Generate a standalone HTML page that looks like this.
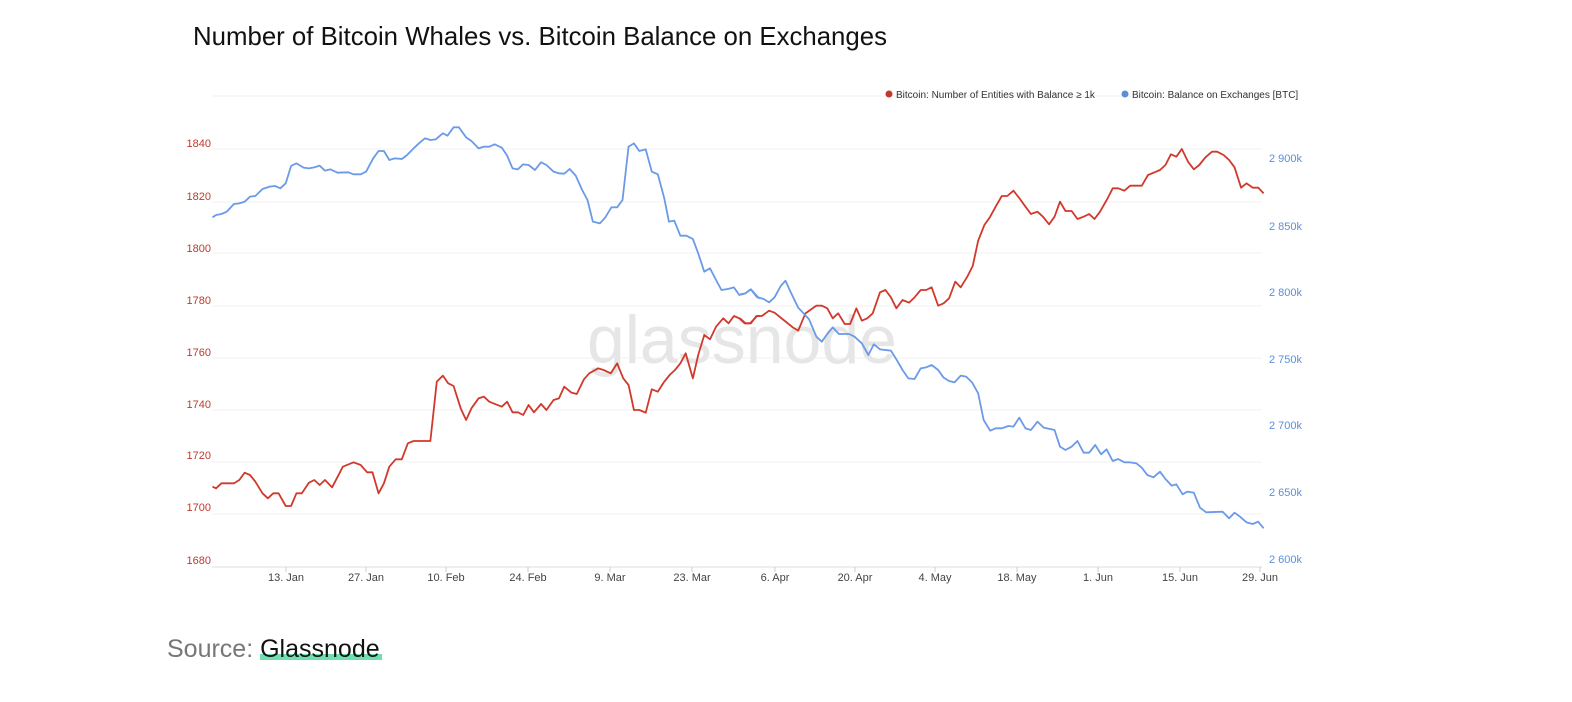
<!DOCTYPE html>
<html><head><meta charset="utf-8"><style>
body{margin:0;background:#fff;width:1572px;height:702px;overflow:hidden;font-family:"Liberation Sans",sans-serif}
</style></head><body>
<svg width="1572" height="702" xmlns="http://www.w3.org/2000/svg" style="position:absolute;left:0;top:0">
<text x="193" y="45" font-size="25.8" fill="#111" font-family="Liberation Sans, sans-serif">Number of Bitcoin Whales vs. Bitcoin Balance on Exchanges</text>
<g stroke="#f0f0f0" stroke-width="1">
<line x1="212" x2="1262" y1="96" y2="96"/><line x1="212" x2="1262" y1="149" y2="149"/><line x1="212" x2="1262" y1="202" y2="202"/><line x1="212" x2="1262" y1="253" y2="253"/><line x1="212" x2="1262" y1="306" y2="306"/><line x1="212" x2="1262" y1="358" y2="358"/><line x1="212" x2="1262" y1="410" y2="410"/><line x1="212" x2="1262" y1="462" y2="462"/><line x1="212" x2="1262" y1="514" y2="514"/>
</g>
<line x1="212" x2="1262" y1="567" y2="567" stroke="#ddd"/>
<text x="742" y="363" font-size="68" fill="#e6e6e6" text-anchor="middle" font-family="Liberation Sans, sans-serif">glassnode</text>
<g font-size="11" fill="#c0392b" text-anchor="end">
<text x="211" y="147">1840</text><text x="211" y="200">1820</text><text x="211" y="252">1800</text><text x="211" y="304">1780</text><text x="211" y="356">1760</text><text x="211" y="408">1740</text><text x="211" y="459">1720</text><text x="211" y="511">1700</text><text x="211" y="564">1680</text>
</g>
<g font-size="11" fill="#5b8fd9">
<text x="1269" y="162">2 900k</text><text x="1269" y="230">2 850k</text><text x="1269" y="296">2 800k</text><text x="1269" y="363">2 750k</text><text x="1269" y="429">2 700k</text><text x="1269" y="496">2 650k</text><text x="1269" y="563">2 600k</text>
</g>
<g font-size="11" fill="#444" text-anchor="middle">
<text x="286" y="581">13. Jan</text><text x="366" y="581">27. Jan</text><text x="446" y="581">10. Feb</text><text x="528" y="581">24. Feb</text><text x="610" y="581">9. Mar</text><text x="692" y="581">23. Mar</text><text x="775" y="581">6. Apr</text><text x="855" y="581">20. Apr</text><text x="935" y="581">4. May</text><text x="1017" y="581">18. May</text><text x="1098" y="581">1. Jun</text><text x="1180" y="581">15. Jun</text><text x="1260" y="581">29. Jun</text>
</g>
<g stroke="#ccc"><line x1="286" x2="286" y1="567" y2="572"/><line x1="366" x2="366" y1="567" y2="572"/><line x1="446" x2="446" y1="567" y2="572"/><line x1="528" x2="528" y1="567" y2="572"/><line x1="610" x2="610" y1="567" y2="572"/><line x1="692" x2="692" y1="567" y2="572"/><line x1="775" x2="775" y1="567" y2="572"/><line x1="855" x2="855" y1="567" y2="572"/><line x1="935" x2="935" y1="567" y2="572"/><line x1="1017" x2="1017" y1="567" y2="572"/><line x1="1098" x2="1098" y1="567" y2="572"/><line x1="1180" x2="1180" y1="567" y2="572"/><line x1="1260" x2="1260" y1="567" y2="572"/></g>
<circle cx="889" cy="94" r="3.5" fill="#c0392b"/><text x="896" y="98" font-size="10" fill="#333">Bitcoin: Number of Entities with Balance ≥ 1k</text>
<circle cx="1125" cy="94" r="3.5" fill="#5b8fd9"/><text x="1132" y="98" font-size="10" fill="#333">Bitcoin: Balance on Exchanges [BTC]</text>
<g fill="none" stroke-width="1.8" stroke-linejoin="round">
<g transform="translate(200,80) scale(0.357143,0.333333)">
<polyline vector-effect="non-scaling-stroke" stroke="#d0392b" points="35,1220 45,1225 60,1210 95,1210 110,1200 125,1178 140,1185 155,1205 175,1240 190,1255 205,1240 220,1240 240,1278 255,1278 270,1240 285,1240 305,1208 320,1200 335,1215 350,1200 370,1222 400,1160 430,1147 450,1155 468,1177 483,1177 500,1240 515,1210 530,1160 548,1138 565,1138 582,1090 598,1083 645,1083 663,905 680,887 695,910 710,918 730,985 745,1020 760,985 780,955 795,950 810,965 845,980 860,965 875,997 890,997 905,1005 920,975 935,997 955,972 970,990 990,960 1005,955 1020,920 1040,938 1055,942 1075,898 1090,880 1115,865 1130,870 1150,880 1168,850 1185,895 1200,915 1215,990 1230,990 1248,998 1265,928 1282,935 1300,905 1315,885 1330,870 1345,850 1360,820 1380,895 1395,825 1412,765 1428,778 1445,740 1465,715 1480,730 1495,708 1510,715 1525,730 1540,730 1560,708 1568,708"/>
<polyline vector-effect="non-scaling-stroke" stroke="#6a9ae8" points="35,412 45,405 60,402 75,395 95,372 110,370 125,365 140,350 155,348 175,327 195,320 210,318 225,325 240,310 255,258 270,250 290,263 305,265 320,262 335,257 350,272 365,268 385,278 415,277 430,283 450,283 465,275 485,235 500,213 515,213 530,240 545,235 565,237 580,225 600,203 615,188 630,175 645,180 660,178 680,160 693,167 710,142 725,142 745,172 760,183 780,205 795,200 810,200 825,193 845,203 860,227 875,265 890,268 905,253 920,255 938,270 955,247 970,255 990,275 1005,280 1020,281 1035,267 1052,287 1070,330 1085,360 1100,425 1120,430 1135,412 1152,382 1168,382 1183,360 1200,200 1215,190 1230,213 1248,208 1265,275 1282,283 1300,355 1313,425 1328,422 1345,467 1362,467 1380,477 1395,520 1412,575 1428,565 1445,600 1460,630 1478,627 1495,622 1510,645 1527,640 1542,628 1560,652 1568,655"/>
</g>
<g transform="translate(740,80) scale(0.363636,0.333333)">
<polyline vector-effect="non-scaling-stroke" stroke="#d0392b" points="0,715 15,730 30,730 45,708 60,708 80,692 95,698 120,720 145,742 160,752 180,700 210,677 225,677 240,685 255,715 270,700 288,732 303,732 320,685 335,722 350,715 365,700 385,637 400,630 415,652 430,685 447,660 465,668 480,652 497,630 512,630 527,622 545,677 560,670 575,655 592,605 607,622 625,590 640,558 655,482 672,435 687,412 703,380 720,348 735,348 752,332 770,357 785,380 800,402 818,395 833,410 850,433 865,410 880,365 895,393 912,393 928,417 945,410 960,402 975,417 990,395 1010,357 1025,325 1040,325 1057,332 1073,317 1105,317 1122,285 1140,277 1155,270 1170,255 1185,223 1200,230 1215,207 1232,245 1248,268 1263,255 1280,232 1298,215 1312,215 1330,225 1345,240 1360,262 1378,323 1393,310 1410,323 1425,323 1440,340"/>
<polyline vector-effect="non-scaling-stroke" stroke="#6a9ae8" points="0,643 15,640 30,628 50,652 65,657 80,667 95,652 112,618 125,602 140,638 160,683 175,700 190,718 210,770 225,785 240,762 255,742 272,762 300,762 315,770 335,790 353,825 368,793 385,808 415,812 430,838 447,870 463,895 480,897 497,865 512,862 527,855 545,870 560,893 575,903 590,907 607,887 622,890 638,907 655,940 670,1020 688,1052 703,1045 720,1045 738,1038 752,1040 768,1013 785,1045 800,1050 818,1025 835,1043 865,1050 880,1100 895,1110 912,1100 928,1083 945,1118 960,1118 977,1095 993,1123 1008,1108 1025,1143 1040,1137 1057,1147 1073,1147 1090,1150 1105,1163 1120,1185 1137,1192 1155,1175 1170,1197 1187,1217 1200,1213 1217,1243 1230,1235 1248,1238 1265,1283 1282,1297 1327,1295 1345,1315 1360,1298 1375,1310 1393,1327 1410,1332 1425,1325 1440,1345"/>
</g>
</g>
<rect x="260" y="654" width="122" height="6" fill="#6ee0b0"/>
<text x="167" y="657" font-size="25" fill="#777">Source: <tspan fill="#111">Glassnode</tspan></text>
</svg>
</body></html>
